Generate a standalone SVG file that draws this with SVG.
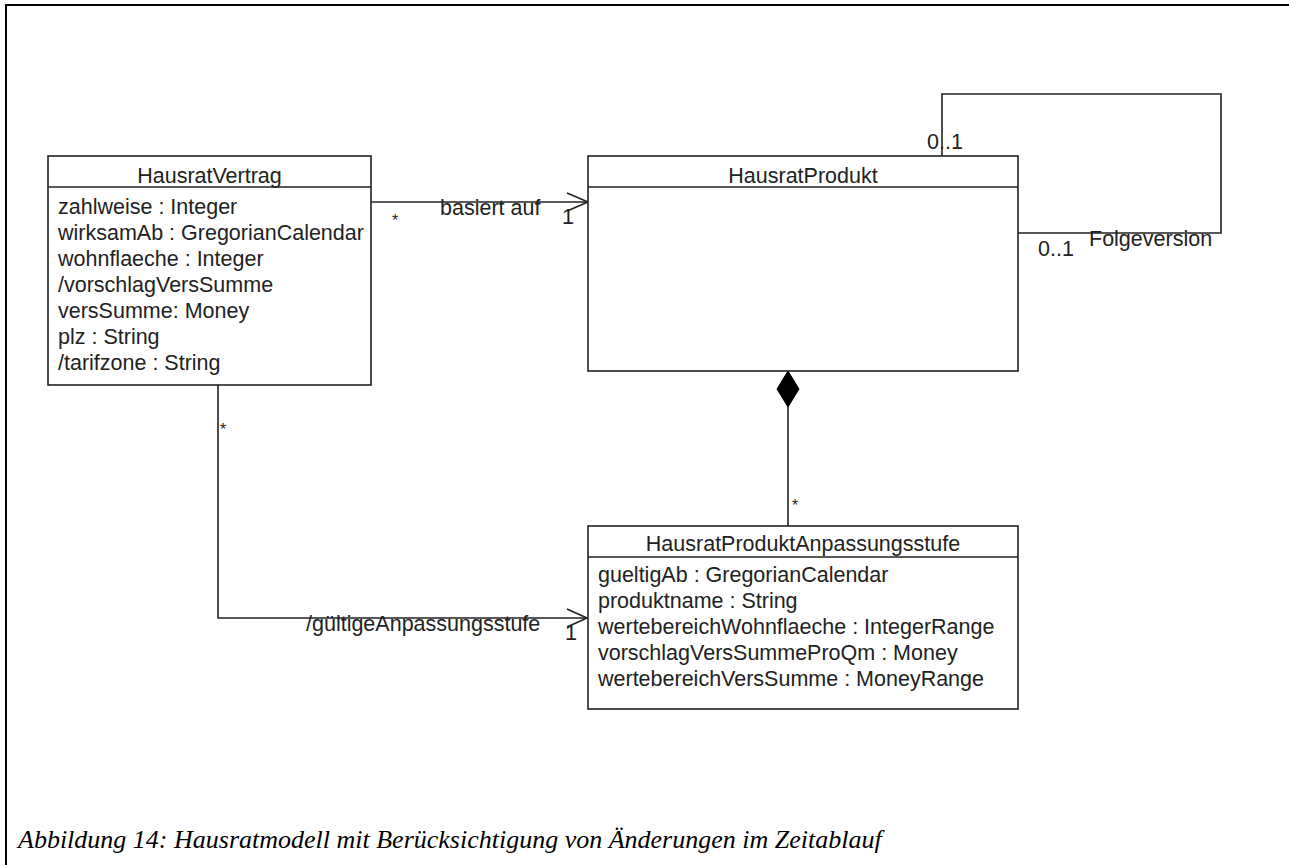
<svg xmlns="http://www.w3.org/2000/svg" width="1289" height="865" viewBox="0 0 1289 865">
<style>
.box{fill:#fff;stroke:#222;stroke-width:1.6}
.ln{fill:none;stroke:#222;stroke-width:1.6}
.t{font-family:"Liberation Sans",Arial,sans-serif;font-size:21.5px;fill:#222}
.c{text-anchor:middle}
.star{font-family:"Liberation Sans",Arial,sans-serif;font-size:16px;fill:#222;text-anchor:middle}
.cap{font-family:"Liberation Serif","Times New Roman",serif;font-style:italic;font-size:26px;fill:#000}
</style>
<rect width="1289" height="865" fill="#fff"/>
<g id="frame">
<polyline points="6,865 6,5 1289,5" fill="none" stroke="#000" stroke-width="2"/>
</g>
<g id="connectors">
<polyline class="ln" points="371,202 588,202"/>
<polyline class="ln" points="567,193 588,202 567,211"/>
<polyline class="ln" points="218,385 218,618 587,618"/>
<polyline class="ln" points="567,609 587,618 567,627"/>
<polyline class="ln" points="942,156 942,94 1221,94 1221,233 1018,233"/>
<line class="ln" x1="788" y1="407" x2="788" y2="526"/>
<polygon points="788,371 799,389 788,407 777,389" fill="#000" stroke="#000" stroke-width="1"/>
<text class="star" x="395" y="226">*</text>
<text class="t" x="440" y="215">basiert auf</text>
<text class="t" x="562" y="224">1</text>
<text class="star" x="223" y="435">*</text>
<text class="t" x="306" y="631">/gültigeAnpassungsstufe</text>
<text class="t" x="565" y="640">1</text>
<text class="t" x="927" y="149">0..1</text>
<text class="t" x="1038" y="256">0..1</text>
<text class="t" x="1089" y="246">Folgeversion</text>
<text class="star" x="795" y="511">*</text>
</g>
<g id="HausratVertrag">
<rect class="box" x="48" y="156" width="323" height="229"/>
<line class="ln" x1="48" y1="187" x2="371" y2="187"/>
<text class="t c" x="209.5" y="183">HausratVertrag</text>
<text class="t" x="58" y="214">zahlweise : Integer</text>
<text class="t" x="58" y="240">wirksamAb : GregorianCalendar</text>
<text class="t" x="58" y="266">wohnflaeche : Integer</text>
<text class="t" x="58" y="292">/vorschlagVersSumme</text>
<text class="t" x="58" y="318">versSumme: Money</text>
<text class="t" x="58" y="344">plz : String</text>
<text class="t" x="58" y="370">/tarifzone : String</text>
</g>
<g id="HausratProdukt">
<rect class="box" x="588" y="156" width="430" height="215"/>
<line class="ln" x1="588" y1="187" x2="1018" y2="187"/>
<text class="t c" x="803" y="183">HausratProdukt</text>
</g>
<g id="HausratProduktAnpassungsstufe">
<rect class="box" x="588" y="526" width="430" height="183"/>
<line class="ln" x1="588" y1="557" x2="1018" y2="557"/>
<text class="t c" x="803" y="551">HausratProduktAnpassungsstufe</text>
<text class="t" x="598" y="582">gueltigAb : GregorianCalendar</text>
<text class="t" x="598" y="608">produktname : String</text>
<text class="t" x="598" y="634">wertebereichWohnflaeche : IntegerRange</text>
<text class="t" x="598" y="660">vorschlagVersSummeProQm : Money</text>
<text class="t" x="598" y="686">wertebereichVersSumme : MoneyRange</text>
</g>
<g id="caption">
<text class="cap" x="18" y="848">Abbildung 14: Hausratmodell mit Berücksichtigung von Änderungen im Zeitablauf</text>
</g>
</svg>
